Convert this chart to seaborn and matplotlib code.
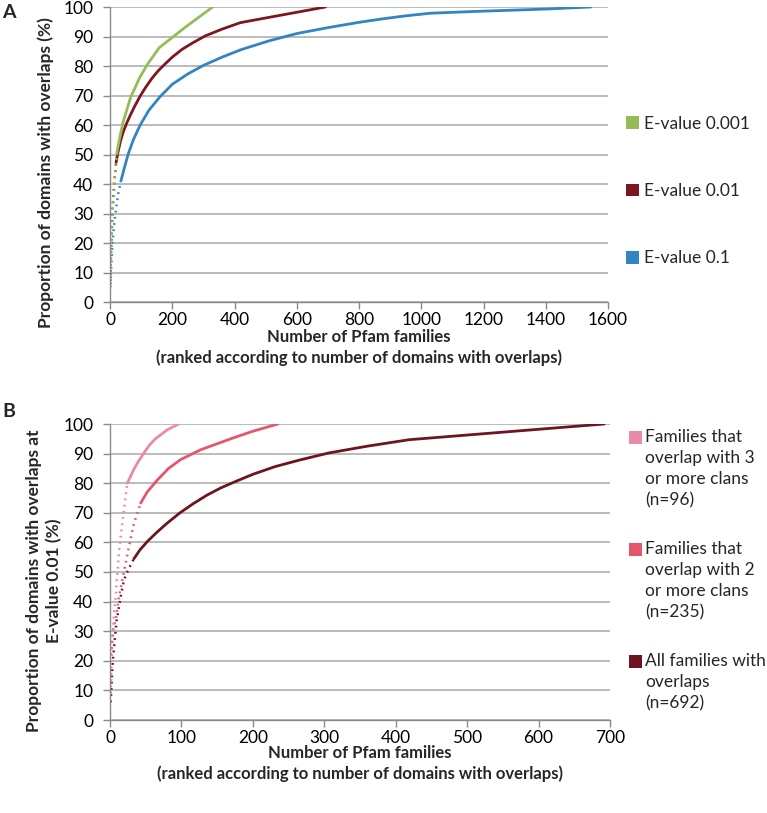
import numpy as np
import matplotlib
matplotlib.use("Agg")
import matplotlib.pyplot as plt
import seaborn as sns
from matplotlib.patches import Patch, Rectangle

# ---------------- data ----------------
# Panel A: cumulative proportion of domains with overlaps vs ranked Pfam families
a_labels = ["E-value 0.001", "E-value 0.01", "E-value 0.1"]

a_e0001_x = [1, 3, 6, 10, 15, 21.5, 30, 41, 55, 66.5, 80, 94, 120, 158, 240, 330]
a_e0001_y = [8, 16, 25, 33, 42, 50.2, 55, 60.6, 65.5, 69.5, 72.5, 75.8, 80.5, 86.2, 93, 100]

a_e001_x = [1, 2, 3, 4, 7, 9.4, 12.6, 15, 19.6, 25, 33.5, 42, 53, 66, 80, 98, 116, 136, 155, 176, 200, 231, 265, 306, 360, 419, 692]
a_e001_y = [6, 11.5, 16, 20, 28, 33.8, 38.3, 41.7, 47.3, 50.5, 54.5, 57.5, 60.5, 63.5, 66.5, 70, 73, 76, 78.4, 80.6, 83, 85.6, 87.8, 90.2, 92.5, 94.7, 100]

a_e01_x = [1, 4, 8, 14, 20, 27, 35, 45, 58, 75, 97, 125, 160, 200, 250, 300, 360, 420, 510, 600, 700, 800, 870, 950, 1030, 1200, 1400, 1545]
a_e01_y = [5, 12, 20, 27, 32, 37, 41, 45, 50, 55, 60, 65, 69.5, 73.8, 77.3, 80.2, 83, 85.5, 88.5, 91, 93, 94.8, 95.9, 97, 97.9, 98.6, 99.3, 100]

a_xticks = [0, 200, 400, 600, 800, 1000, 1200, 1400, 1600]

# Panel B: at E-value 0.01, subsets of families
b_labels = ["Families that\noverlap with 3\nor more clans\n(n=96)",
            "Families that\noverlap with 2\nor more clans\n(n=235)",
            "All families with\noverlaps\n(n=692)"]

b_clans3_x = [1, 3.2, 4.6, 5.6, 8, 9.4, 11.2, 12.6, 15, 17.2, 19.6, 24.2, 33, 40, 47, 55, 63.5, 80, 96]
b_clans3_y = [9, 27, 31.5, 36, 41.7, 47.3, 51.8, 56.9, 62, 66.4, 71, 80, 84.5, 87.5, 90, 92.8, 95, 98, 100]

b_clans2_x = [1, 2.5, 5, 8, 12.6, 17.2, 22, 26.5, 33.5, 43, 52, 66, 82, 99, 127, 169, 198, 235]
b_clans2_y = [22, 25, 31.5, 33.8, 41.7, 47.3, 53, 58.5, 66.4, 73.3, 77, 81, 85, 88, 91.3, 95, 97.4, 100]

b_all_x = a_e001_x
b_all_y = a_e001_y

b_xticks = [0, 100, 200, 300, 400, 500, 600, 700]
yticks = [0, 10, 20, 30, 40, 50, 60, 70, 80, 90, 100]

# ---------------- style ----------------
sns.set_theme(style="white")
plt.rcParams['font.family'] = ['Lato', 'DejaVu Sans']

C_GREEN = '#94BD58'
C_RED_A = '#7E1620'
C_BLUE = '#3284C2'
C_PINK_L = '#E88AA8'
C_PINK_M = '#E3566C'
C_RED_B = '#6E1420'
GRID = '#A8A8A8'
AXC = '#8A8A8A'

W, H = 767, 813
fig = plt.figure(figsize=(W / 100, H / 100), dpi=100)


def px_box(l, t, r, b):
    return [l / W, 1 - b / H, (r - l) / W, (b - t) / H]


axA = fig.add_axes(px_box(110, 7, 608, 302))
axB = fig.add_axes(px_box(110, 424, 610, 720))


def draw_series(ax, x, y, color, dot_until):
    x = np.asarray(x, float)
    y = np.asarray(y, float)
    k = int(np.searchsorted(x, dot_until))
    sns.lineplot(x=x[:k + 1], y=y[:k + 1], ax=ax, color=color, lw=1.8,
                 linestyle=(0, (0.7, 1.8)), estimator=None, sort=False)
    sns.lineplot(x=x[k:], y=y[k:], ax=ax, color=color, lw=2.0,
                 estimator=None, sort=False)


draw_series(axA, a_e01_x, a_e01_y, C_BLUE, 35)
draw_series(axA, a_e001_x, a_e001_y, C_RED_A, 19.6)
draw_series(axA, a_e0001_x, a_e0001_y, C_GREEN, 21.5)

draw_series(axB, b_all_x, b_all_y, C_RED_B, 33.5)
draw_series(axB, b_clans2_x, b_clans2_y, C_PINK_M, 43)
draw_series(axB, b_clans3_x, b_clans3_y, C_PINK_L, 24.2)

xlabel = "Number of Pfam families\n(ranked according to number of domains with overlaps)"
for ax, xt, ly in ((axA, a_xticks, -0.155), (axB, b_xticks, -0.147)):
    ax.set_xlim(xt[0], xt[-1])
    ax.set_ylim(0, 100)
    ax.set_xticks(xt)
    ax.set_yticks(yticks)
    ax.set_axisbelow(True)
    ax.yaxis.grid(True, color=GRID, lw=1.1)
    ax.xaxis.grid(False)
    for s in ('top', 'right'):
        ax.spines[s].set_visible(False)
    for s in ('left', 'bottom'):
        ax.spines[s].set_color(AXC)
        ax.spines[s].set_linewidth(1.0)
    ax.tick_params(axis='both', which='major', bottom=True, left=True, direction='out',
                   length=5, width=1, color=AXC, labelsize=12.5, labelcolor='black')
    ax.tick_params(axis='x', pad=2)
    ax.tick_params(axis='y', pad=7)
    ax.set_xlabel(xlabel, fontsize=12, fontweight='bold', linespacing=1.3,
                  ha='center', va='center')
    ax.xaxis.set_label_coords(0.5, ly)

axA.set_ylabel("Proportion of domains with overlaps (%)", fontsize=12.5, fontweight='bold',
               ha='center', va='center')
axA.yaxis.set_label_coords(-0.13, 0.44)

axB.set_ylabel("Proportion of domains with overlaps at\nE-value 0.01 (%)", fontsize=12.5,
               fontweight='bold', ha='center', va='center', linespacing=1.3)
axB.yaxis.set_label_coords(-0.132, 0.47)

fig.text(9 / W, 1 - 13 / H, "A", fontsize=14, fontweight='bold', ha='center', va='center')
fig.text(9 / W, 1 - 411 / H, "B", fontsize=14, fontweight='bold', ha='center', va='center')

# Legend A
handlesA = [Patch(facecolor=c, edgecolor='none', label=l)
            for c, l in zip([C_GREEN, C_RED_A, C_BLUE], a_labels)]
axA.legend(handles=handlesA, loc='center left', bbox_to_anchor=(1.036, 0.376),
           frameon=False, fontsize=12.5, handlelength=0.75, handleheight=0.75,
           handletextpad=0.3, labelspacing=2.95, borderpad=0, borderaxespad=0)

# Legend B (handles aligned with first line of multi-line labels)
for c, l, yc in zip([C_PINK_L, C_PINK_M, C_RED_B], b_labels, [437, 549, 661]):
    fig.patches.append(Rectangle((629 / W, 1 - (yc + 6.5) / H), 13 / W, 13 / H,
                                 facecolor=c, edgecolor='none', transform=fig.transFigure,
                                 figure=fig))
    fig.text(645 / W, 1 - (yc - 8) / H, l, fontsize=12.5, ha='left', va='top',
             linespacing=1.38)

fig.savefig("out.png", dpi=100, facecolor='white')
